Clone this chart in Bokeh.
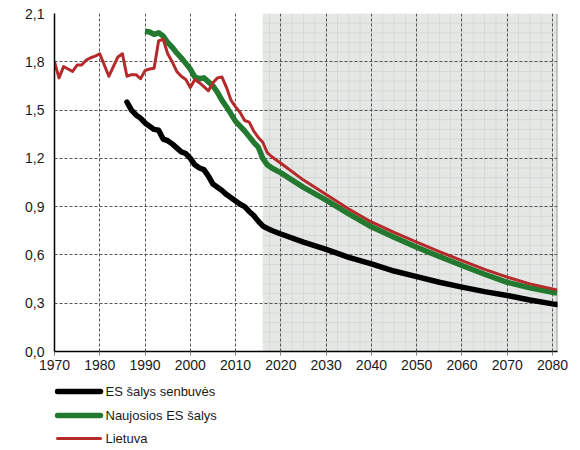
from bokeh.plotting import figure
from bokeh.layouts import column
from bokeh.models import Range1d, FixedTicker, CustomJSTickFormatter
from bokeh.core.properties import value
from bokeh.embed import file_html
from bokeh.resources import INLINE
import numpy as np

# --- data ---
lt_years = list(range(1970, 2019)) + [2020, 2025, 2030, 2035, 2040, 2045, 2050, 2055, 2060, 2065, 2070, 2075, 2080, 2081]
lt_values = [1.80, 1.70, 1.77, 1.755, 1.74, 1.78, 1.78, 1.81, 1.825, 1.835,
             1.85, 1.78, 1.71, 1.77, 1.83, 1.85, 1.71, 1.72, 1.72, 1.695,
             1.745, 1.755, 1.76, 1.93, 1.94, 1.85, 1.80, 1.74, 1.71, 1.69,
             1.64, 1.69, 1.67, 1.645, 1.62, 1.67, 1.70, 1.705, 1.64, 1.56,
             1.52, 1.485, 1.435, 1.425, 1.37, 1.33, 1.30, 1.235, 1.21,
             1.17, 1.065, 0.975, 0.885, 0.805, 0.74, 0.68, 0.62, 0.565, 0.51, 0.462, 0.42, 0.389, 0.383]

new_years = list(range(1990, 2019)) + [2020, 2025, 2030, 2035, 2040, 2045, 2050, 2055, 2060, 2065, 2070, 2075, 2080, 2081]
new_values = [1.99, 1.985, 1.97, 1.98, 1.96, 1.92, 1.89, 1.855, 1.825, 1.79,
              1.755, 1.705, 1.695, 1.70, 1.675, 1.65, 1.61, 1.56, 1.52, 1.475,
              1.43, 1.40, 1.37, 1.335, 1.30, 1.27, 1.20, 1.16, 1.14,
              1.11, 1.02, 0.94, 0.855, 0.775, 0.71, 0.648, 0.59, 0.534, 0.48, 0.43, 0.395, 0.368, 0.363]

old_years = list(range(1986, 2019)) + [2020, 2025, 2030, 2035, 2040, 2045, 2050, 2055, 2060, 2065, 2070, 2075, 2080, 2081]
old_values = [1.55, 1.50, 1.47, 1.45, 1.42, 1.40, 1.38, 1.375, 1.32, 1.31,
              1.29, 1.265, 1.24, 1.23, 1.20, 1.16, 1.14, 1.13, 1.09, 1.04,
              1.02, 1.00, 0.975, 0.955, 0.935, 0.915, 0.90, 0.87, 0.845, 0.81,
              0.78, 0.765, 0.752,
              0.73, 0.68, 0.635, 0.585, 0.545, 0.50, 0.465, 0.43, 0.40, 0.372, 0.348, 0.32, 0.296, 0.292]

x_ticks = [1970, 1980, 1990, 2000, 2010, 2020, 2030, 2040, 2050, 2060, 2070, 2080]
y_ticks = [0.0, 0.3, 0.6, 0.9, 1.2, 1.5, 1.8, 2.1]
projection_start = 2016
x_end = 2081.1
y_end = 2.1

labels = ["ES šalys senbuvės", "Naujosios ES šalys", "Lietuva"]
colors = ["#000000", "#23792f", "#b52a2a"]
widths = [5.5, 5.5, 3]

FONT = "Liberation Sans"

p = figure(width=580, height=378, output_backend="svg", toolbar_location=None,
           x_range=Range1d(1970, x_end), y_range=Range1d(0, y_end),
           min_border_left=54, min_border_top=13, min_border_right=23, min_border_bottom=27)
p.outline_line_color = None
p.background_fill_color = "white"

# projection shading with its fine grid
p.quad(left=[projection_start], right=[x_end], bottom=[0], top=[y_end],
       fill_color="#e5e7e5", line_color=None, level="image")
mx = np.arange(projection_start + 1.5, x_end, 2.5)
p.segment(x0=mx, y0=0, x1=mx, y1=y_end, line_color="#d4dad7", line_width=1, level="image")
my = np.arange(0.06, y_end, 0.06)
p.segment(x0=projection_start, y0=my, x1=x_end, y1=my, line_color="#d4dad7", line_width=1, level="image")
# right border
p.segment(x0=[x_end - 0.05], y0=[0], x1=[x_end - 0.05], y1=[y_end], line_color="#9a9a9a", line_width=1.5)

p.line(old_years, old_values, line_color=colors[0], line_width=widths[0], line_join="round", line_cap="round")
p.line(new_years, new_values, line_color=colors[1], line_width=widths[1], line_join="round")
p.line(lt_years, lt_values, line_color=colors[2], line_width=widths[2], line_join="round")

# axes & grid
p.xaxis.ticker = FixedTicker(ticks=x_ticks)
p.yaxis.ticker = FixedTicker(ticks=y_ticks)
p.yaxis.formatter = CustomJSTickFormatter(code="return tick.toFixed(1).replace('.', ',');")
for ax in (p.xaxis, p.yaxis):
    ax.axis_line_color = "black"
    ax.axis_line_width = 1.5
    ax.major_label_text_font = FONT
    ax.major_label_text_font_size = "14px"
    ax.major_label_text_color = "#1a1a1a"
    ax.minor_tick_line_color = None
    ax.major_tick_in = 0
    ax.major_tick_line_color = "#808080"
p.xaxis.major_tick_out = 4
p.xaxis.major_label_standoff = 4
p.yaxis.major_tick_out = 0
p.yaxis.major_label_standoff = 10

p.xgrid.grid_line_color = "#555555"
p.xgrid.grid_line_dash = "3 2"
p.ygrid.grid_line_color = "#555555"
p.ygrid.grid_line_dash = "3 2"
p.xgrid.grid_line_width = 1
p.ygrid.grid_line_width = 1

# legend panel below the chart (frame aligned with the chart frame, pixel-unit ranges)
lg = figure(width=580, height=72, output_backend="svg", toolbar_location=None,
            x_range=Range1d(54, 557), y_range=Range1d(72, 0),
            x_axis_location=None, y_axis_location=None,
            min_border_left=54, min_border_right=23, min_border_top=0, min_border_bottom=0)
lg.outline_line_color = None
lg.grid.visible = False
row_y = [13, 37, 60]
for lab, col, w, yy in zip(labels, colors, widths, row_y):
    lg.segment(x0=[57], y0=[yy], x1=[100], y1=[yy], line_color=col, line_width=w, line_cap="round")
lg.text(x=[105, 105, 105], y=row_y, text=labels, text_font=value(FONT), text_font_size="13px",
        text_color="#1a1a1a", text_baseline="middle", text_align="left")

layout = column(p, lg, spacing=0)
open("out.html", "w").write(file_html(layout, INLINE))
